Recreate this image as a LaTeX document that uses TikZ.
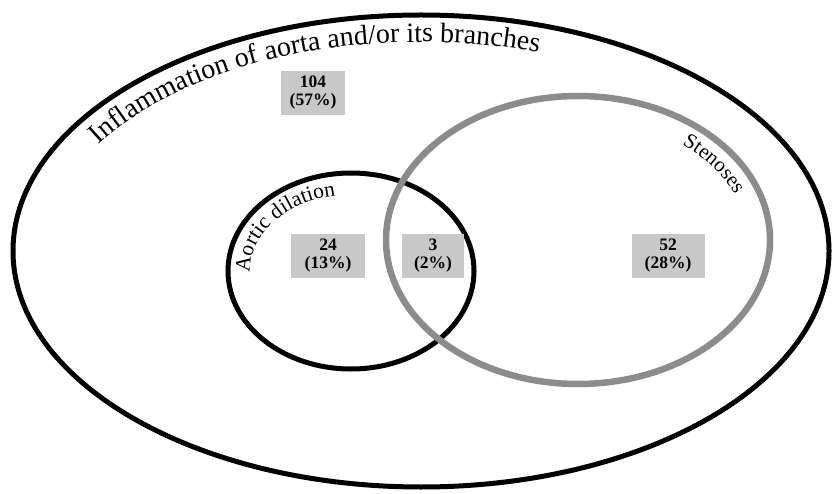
\documentclass[tikz,border=0pt]{standalone}
\usepackage{fontspec}
\setmainfont{Liberation Serif}
\usepackage{xcolor}
\usepackage{tikz}
\usetikzlibrary{decorations.text}
\usetikzlibrary{shapes,positioning}

\definecolor{stengray}{HTML}{8C8C8C}
\definecolor{boxgray}{HTML}{C8C8C8}

\tikzset{
    countbox/.style={
        fill=boxgray,
        inner sep=0pt,
        minimum height=44pt,
        align=center,
        font=\bfseries\fontsize{17.5}{18}\selectfont
    },
    setline/.style={
        line width=5pt
    }
}

\begin{document}
\begin{tikzpicture}[x=1pt,y=1pt]
                \useasboundingbox (0,0) rectangle (832,493);

                % outer set
                \draw[
                    setline
                    ] (421,242) ellipse [x radius=408, y radius=236];

                \path[
                    decorate,
                    decoration={text along path,
                        text align=left,
                        text={|\fontsize{28}{30}\selectfont|Inflammation of aorta and/or its branches}}
                    ] (421,242) ++(149.5:374 and 209)
                      arc[start angle=149.5, end angle=55, x radius=374, y radius=209];

                % aortic dilation
                \draw[
                    setline
                    ] (351,222) ellipse [x radius=123, y radius=98];

                \path[
                    decorate,
                    decoration={text along path,
                        text align=center,
                        text={|\fontsize{21.5}{26}\selectfont|Aortic dilation}}
                    ] (351,222) ++(190:101 and 76)
                      arc[start angle=190, end angle=92, x radius=101, y radius=76];

                % stenoses
                \draw[
                    setline,
                    line width=6.5pt,
                    draw=stengray
                    ] (578,253) ellipse [x radius=192, y radius=144];

                \path[
                    decorate,
                    decoration={text along path,
                        text align=center,
                        text={|\fontsize{21}{24}\selectfont|Stenoses}}
                    ] (578,253) ++(60:169 and 121)
                      arc[start angle=60, end angle=12, x radius=169, y radius=121];

                % counts
                \node (n104) [countbox, minimum width=64pt] at (313,400) {104\\(57\%)};
                \node (n24) [countbox, minimum width=74pt] at (328,237) {24\\(13\%)};
                \node (n3) [countbox, minimum width=62pt] at (433,237) {3\\(2\%)};
                \node (n52) [countbox, minimum width=73pt] at (668,237) {52\\(28\%)};

            \end{tikzpicture}
\end{document}
